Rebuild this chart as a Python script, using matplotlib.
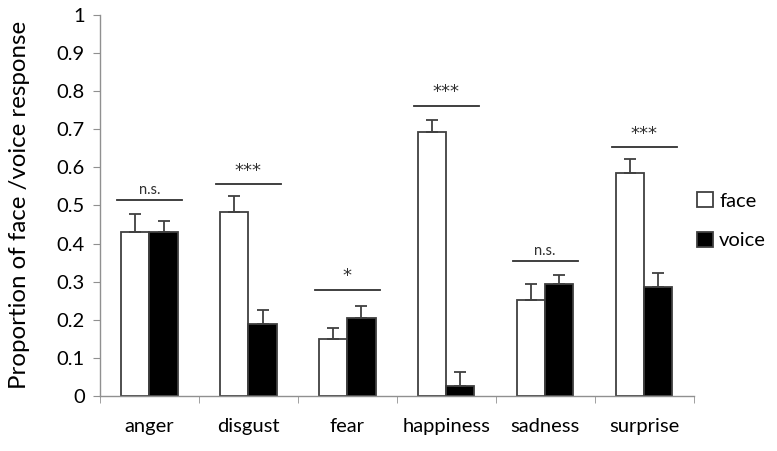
import matplotlib
matplotlib.use("Agg")
import matplotlib.pyplot as plt
import numpy as np

plt.rcParams['font.family'] = ['Lato', 'DejaVu Sans']

emotions = ["anger", "disgust", "fear", "happiness", "sadness", "surprise"]
face = [0.43, 0.484, 0.149, 0.693, 0.251, 0.585]
face_err = [0.048, 0.042, 0.029, 0.030, 0.044, 0.038]
voice = [0.43, 0.188, 0.204, 0.025, 0.294, 0.287]
voice_err = [0.030, 0.038, 0.032, 0.039, 0.023, 0.036]
sig_labels = ["n.s.", "***", "*", "***", "n.s.", "***"]
sig_heights = [0.515, 0.555, 0.278, 0.762, 0.354, 0.653]

edge = "#404040"
x = np.arange(len(emotions))
w = 0.285

fig = plt.figure(figsize=(7.77, 4.51), dpi=100)
ax = fig.add_axes([0.1287, 0.122, 0.764, 0.845])

ax.bar(x - w / 2, face, w, color="white", edgecolor=edge, linewidth=1.3,
       label="face", zorder=2)
ax.bar(x + w / 2, voice, w, color="black", edgecolor=edge, linewidth=1.3,
       label="voice", zorder=2)
# only the upper half of the error bars is drawn
ax.errorbar(x - w / 2, face, yerr=[np.zeros(6), face_err], fmt="none",
            ecolor=edge, elinewidth=1.3, capsize=4, capthick=1.3, zorder=3)
ax.errorbar(x + w / 2, voice, yerr=[np.zeros(6), voice_err], fmt="none",
            ecolor=edge, elinewidth=1.3, capsize=4, capthick=1.3, zorder=3)

for xi, lab, h in zip(x, sig_labels, sig_heights):
    ax.plot([xi - 0.33, xi + 0.33], [h, h], color="#303030", lw=1.3)
    if "*" in lab:
        ax.text(xi, h + 0.012, lab, ha="center", va="bottom", fontsize=13,
                color="#303030", family="DejaVu Sans")
    else:
        ax.text(xi, h + 0.008, lab, ha="center", va="bottom", fontsize=10.5,
                color="#303030")

ax.set_xlim(-0.5, 5.5)
ax.set_ylim(0, 1)
ax.set_yticks(np.arange(0, 1.01, 0.1))
ax.set_yticklabels(["0"] + ["%.1f" % v for v in np.arange(0.1, 0.95, 0.1)] + ["1"])
ax.set_xticks(x)
ax.set_xticklabels(emotions)
ax.set_xticks(np.arange(-0.5, 6, 1), minor=True)
ax.tick_params(axis="x", which="major", length=0, labelsize=14.5, pad=16)
ax.tick_params(axis="x", which="minor", length=5, color="#909090", direction="out")
ax.tick_params(axis="y", length=5, color="#909090", labelsize=14.5, pad=6)

for s in ["top", "right"]:
    ax.spines[s].set_visible(False)
for s in ["left", "bottom"]:
    ax.spines[s].set_color("#909090")
    ax.spines[s].set_linewidth(1.0)

ax.set_ylabel("Proportion of face /voice response", fontsize=17.3, labelpad=19)

ax.legend(loc="center left", bbox_to_anchor=(0.975, 0.46), frameon=False,
          fontsize=14.5, handlelength=0.8, handleheight=0.8, labelspacing=1.1,
          handletextpad=0.3)

fig.savefig("out.png", dpi=100)
